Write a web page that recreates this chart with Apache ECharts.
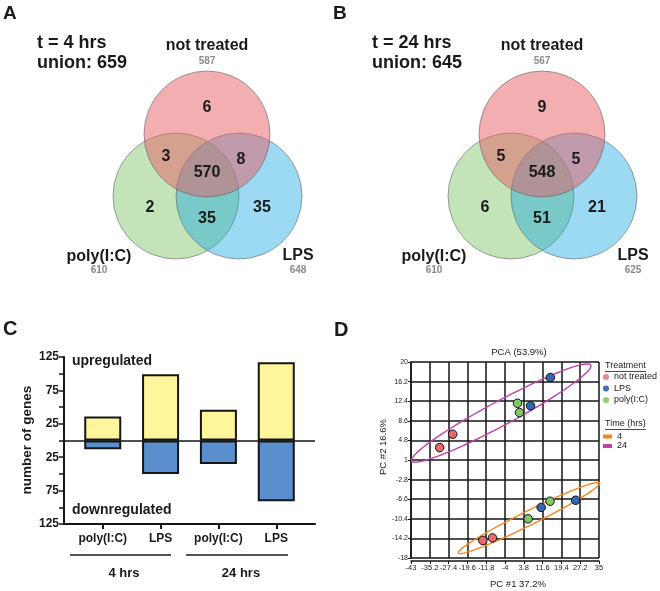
<!DOCTYPE html>
<html><head><meta charset="utf-8">
<script src="https://cdn.jsdelivr.net/npm/echarts@6/dist/echarts.min.js"></script>
<style>html,body{margin:0;padding:0;background:#fff}#c{width:660px;height:591px}</style>
</head><body><div id="c"></div>
<script>
// ===================== DATA =====================
// Venn diagrams (A: 4 hrs, B: 24 hrs)
const vennSetNames = ['not treated', 'poly(I:C)', 'LPS'];
const vennSetSizes4h = [587, 610, 648];
const vennSetSizes24h = [567, 610, 625];
// regions: NT only, NT∩poly, NT∩poly∩LPS, NT∩LPS, poly only, poly∩LPS, LPS only
const vennCounts4h = [6, 3, 570, 8, 2, 35, 35];
const vennCounts24h = [9, 5, 548, 5, 6, 51, 21];
const vennTimeTitles = ['t = 4 hrs', 't = 24 hrs'];
const vennUnions = [659, 645];

// Bar chart (C)
const barCategories = ['poly(I:C)', 'LPS', 'poly(I:C)', 'LPS'];
const barGroups = ['4 hrs', '24 hrs'];
const upregulated = [36, 99, 46, 117];
const downregulated = [13, 50, 35, 91];
const barYLabelValues = [125, 75, 25];

// PCA (D)
const pcaNotTreated = [[-31.1, 3.4], [-25.7, 6.0], [-13.2, -14.6], [-9.2, -14.1]];
const pcaLPS = [[14.8, 17.0], [6.6, 11.5], [25.3, -6.8], [11.0, -8.2]];
const pcaPoly = [[1.2, 12.0], [2.0, 10.2], [14.7, -7.0], [5.6, -10.4]];
// ellipse: centre x, centre y, major-axis end x, end y, minor/major ratio
const ellipse4h = [5.96, -10.24, 35.3, -3.44, 0.09];
const ellipse24h = [-5.56, 10.1, 31.6, 19.4, 0.12];
const pcaXRange = [-43, 35, 7.8];
const pcaYRange = [-18, 20, 3.8];

// ===================== LAYOUT =====================
const FONT = '"Liberation Sans", Arial, Helvetica, sans-serif';
const panelDX = [0, 335];
const vennCircleLayout = [[207, 134], [176, 196], [239, 196]]; // NT, poly, LPS
const vennR = 63;
const vennFills = ['rgba(229,93,99,0.5)', 'rgba(135,201,115,0.5)', 'rgba(20,165,225,0.42)'];
const vennRegionLayout = [[207, 108], [166, 157], [207, 173], [241, 159.5], [150, 207.5], [207, 218.5], [262, 207.5]];
const vennSetLabelLayout = [[207, 45.5, 61], [99, 257, 270], [298, 256, 270]];

const chart = echarts.init(document.getElementById('c'), null, {renderer: 'canvas'});

// circles
const circleData = [];
[0, 1].forEach(p => {
  [1, 2, 0].forEach(k => {
    circleData.push([vennCircleLayout[k][0] + panelDX[p], vennCircleLayout[k][1], vennR, k]);
  });
});

// text items
const textItems = [];
[[vennCounts4h, vennSetSizes4h], [vennCounts24h, vennSetSizes24h]].forEach((pair, p) => {
  const counts = pair[0], sizes = pair[1];
  counts.forEach((c, i) => {
    textItems.push({x: vennRegionLayout[i][0] + panelDX[p], y: vennRegionLayout[i][1], text: String(c), font: 'bold 16px ' + FONT, color: '#1a1a1a', align: 'center'});
  });
  vennSetNames.forEach((n, i) => {
    const L = vennSetLabelLayout[i];
    textItems.push({x: L[0] + panelDX[p], y: L[1], text: n, font: 'bold 16px ' + FONT, color: '#1a1a1a', align: 'center'});
    textItems.push({x: L[0] + panelDX[p], y: L[2], text: String(sizes[i]), font: 'bold 10px ' + FONT, color: '#8a8a8a', align: 'center'});
  });
  textItems.push({x: 37 + panelDX[p], y: 43.5, text: vennTimeTitles[p], font: 'bold 18px ' + FONT, color: '#1a1a1a', align: 'left'});
  textItems.push({x: 37 + panelDX[p], y: 63, text: 'union: ' + vennUnions[p], font: 'bold 18px ' + FONT, color: '#1a1a1a', align: 'left'});
});

function ellipseRender(color) {
  return function (params, api) {
    const c = api.coord([api.value(0), api.value(1)]);
    const e = api.coord([api.value(2), api.value(3)]);
    const r = api.value(4);
    const vx = e[0] - c[0], vy = e[1] - c[1];
    const ux = -vy * r, uy = vx * r;
    const pts = [];
    for (let i = 0; i <= 90; i++) {
      const t = i / 90 * Math.PI * 2;
      pts.push([c[0] + Math.cos(t) * vx + Math.sin(t) * ux, c[1] + Math.cos(t) * vy + Math.sin(t) * uy]);
    }
    return {type: 'polygon', shape: {points: pts}, style: {fill: 'none', stroke: color, lineWidth: 1.4}};
  };
}

const graphics = [];
function gtext(x, y, text, font, opts) {
  graphics.push({type: 'text', x: x, y: y, style: Object.assign({text: text, font: font, fill: '#1a1a1a', align: 'left', verticalAlign: 'middle'}, opts || {})});
}
function gline(x1, y1, x2, y2, w, color) {
  graphics.push({type: 'line', shape: {x1: x1, y1: y1, x2: x2, y2: y2}, style: {stroke: color || '#1a1a1a', lineWidth: w}});
}
// panel letters
gtext(3, 14, 'A', 'bold 19px ' + FONT);
gtext(333, 14, 'B', 'bold 19px ' + FONT);
gtext(3, 329, 'C', 'bold 20px ' + FONT);
gtext(334, 330, 'D', 'bold 20px ' + FONT);
// panel C annotations
gtext(72, 361, 'upregulated', 'bold 14px ' + FONT);
gtext(72, 510, 'downregulated', 'bold 14px ' + FONT);
graphics.push({type: 'text', x: 27.5, y: 440, rotation: Math.PI / 2, style: {text: 'number of genes', font: 'bold 13.5px ' + FONT, fill: '#1a1a1a', align: 'center', verticalAlign: 'middle'}});
gline(70, 555, 171, 555, 1.5);
gline(186, 555, 288, 555, 1.5);
gtext(124, 573, barGroups[0], 'bold 13px ' + FONT, {align: 'center'});
gtext(241, 573, barGroups[1], 'bold 13px ' + FONT, {align: 'center'});
// panel D annotations
gtext(519, 352, 'PCA (53.9%)', '9.5px ' + FONT, {align: 'center', fill: '#222'});
graphics.push({type: 'text', x: 383, y: 447, rotation: Math.PI / 2, style: {text: 'PC #2 16.6%', font: '9.5px ' + FONT, fill: '#222', align: 'center', verticalAlign: 'middle'}});
gtext(518, 584, 'PC #1 37.2%', '9.5px ' + FONT, {align: 'center', fill: '#222'});
gtext(605, 366, 'Treatment', '9px ' + FONT, {fill: '#222'});
gline(605, 371.5, 646, 371.5, 0.8, '#222');
gtext(605, 424, 'Time (hrs)', '9px ' + FONT, {fill: '#222'});
gline(605, 429.5, 646, 429.5, 0.8, '#222');

const axisDark = '#151515';

const option = {
  animation: false,
  backgroundColor: '#fff',
  textStyle: {fontFamily: FONT},
  graphic: graphics,
  grid: [
    {left: 0, top: 0, width: 660, height: 591, show: false},
    {left: 64, top: 357, width: 251, height: 167},
    {left: 411, top: 362, width: 188, height: 196}
  ],
  xAxis: [
    {gridIndex: 0, type: 'value', min: 0, max: 660, show: false},
    {gridIndex: 1, type: 'value', min: 0.33, max: 4.67,
      axisLine: {show: true, onZero: false, lineStyle: {color: axisDark, width: 2}},
      axisTick: {show: true, customValues: [1, 2, 3, 4], length: 5, lineStyle: {color: axisDark, width: 2}},
      axisLabel: {customValues: [1, 2, 3, 4], formatter: v => barCategories[Math.round(v) - 1], fontWeight: 'bold', fontSize: 12, color: '#1a1a1a', margin: 9},
      splitLine: {show: false}},
    {gridIndex: 2, type: 'value', min: pcaXRange[0], max: pcaXRange[1], interval: pcaXRange[2], offset: 3,
      axisLine: {show: true, onZero: false, lineStyle: {color: axisDark, width: 1.5}},
      axisTick: {show: true, length: 3, lineStyle: {color: axisDark}},
      axisLabel: {fontSize: 7.5, color: '#222', margin: 3, formatter: v => String(+v.toFixed(1))},
      splitLine: {show: true, lineStyle: {color: axisDark, width: 1.5}}}
  ],
  yAxis: [
    {gridIndex: 0, type: 'value', min: 0, max: 591, inverse: true, show: false},
    {gridIndex: 1, type: 'value', min: -125, max: 125, interval: 25,
      axisLine: {show: true, onZero: false, lineStyle: {color: axisDark, width: 2}},
      axisTick: {show: true, length: 5, lineStyle: {color: axisDark, width: 1.5}},
      axisLabel: {formatter: v => { const a = Math.abs(v); return barYLabelValues.indexOf(a) >= 0 ? String(a) : ''; }, fontWeight: 'bold', fontSize: 12, color: '#1a1a1a', margin: 5},
      splitLine: {show: false}},
    {gridIndex: 2, type: 'value', min: pcaYRange[0], max: pcaYRange[1], interval: pcaYRange[2],
      axisLine: {show: true, onZero: false, lineStyle: {color: axisDark, width: 1.5}},
      axisTick: {show: true, length: 3, lineStyle: {color: axisDark}},
      axisLabel: {fontSize: 7, color: '#222', margin: 3, formatter: v => String(+v.toFixed(1))},
      splitLine: {show: true, lineStyle: {color: axisDark, width: 1.5}}}
  ],
  legend: [
    {orient: 'vertical', left: 603, top: 372, padding: 0, itemGap: 1.5, itemWidth: 6, itemHeight: 6, icon: 'circle', selectedMode: false,
      itemStyle: {borderWidth: 0},
      textStyle: {fontSize: 9, color: '#222', lineHeight: 10},
      data: [{name: 'not treated', itemStyle: {color: '#f4868a'}}, {name: 'LPS', itemStyle: {color: '#3a6cc0'}}, {name: 'poly(I:C)', itemStyle: {color: '#8fd26b'}}]},
    {orient: 'vertical', left: 603, top: 432, padding: 0, itemGap: 0.5, itemWidth: 9, itemHeight: 4, icon: 'rect', selectedMode: false,
      itemStyle: {borderWidth: 0},
      textStyle: {fontSize: 9, color: '#222', lineHeight: 9},
      data: ['4', '24']}
  ],
  series: [
    {type: 'custom', name: 'venn circles', xAxisIndex: 0, yAxisIndex: 0, silent: true, z: 1,
      data: circleData,
      renderItem: (params, api) => {
        const c = api.coord([api.value(0), api.value(1)]);
        const r = api.size([api.value(2), 0])[0];
        return {type: 'circle', shape: {cx: c[0], cy: c[1], r: r}, style: {fill: vennFills[api.value(3)], stroke: 'rgba(90,90,90,0.55)', lineWidth: 1}};
      }},
    {type: 'custom', name: 'venn text', xAxisIndex: 0, yAxisIndex: 0, silent: true, z: 5,
      data: textItems.map(t => [t.x, t.y]),
      renderItem: (params, api) => {
        const t = textItems[params.dataIndex];
        const p = api.coord([api.value(0), api.value(1)]);
        return {type: 'text', x: p[0], y: p[1], style: {text: t.text, font: t.font, fill: t.color, align: t.align, verticalAlign: 'middle'}};
      }},
    {type: 'bar', name: 'upregulated', xAxisIndex: 1, yAxisIndex: 1, stack: 'reg', barWidth: 37,
      data: upregulated.map((v, i) => [i + 1, v]),
      itemStyle: {color: '#fff59b', borderColor: axisDark, borderWidth: 2},
      markLine: {silent: true, symbol: 'none', label: {show: false}, lineStyle: {color: axisDark, width: 1.6, type: 'solid'}, data: [{yAxis: 0}]}},
    {type: 'bar', name: 'downregulated', xAxisIndex: 1, yAxisIndex: 1, stack: 'reg', barWidth: 37,
      data: downregulated.map((v, i) => [i + 1, -v]),
      itemStyle: {color: '#5b8ecc', borderColor: axisDark, borderWidth: 2}},
    {type: 'custom', name: '4', xAxisIndex: 2, yAxisIndex: 2, z: 3, itemStyle: {color: '#f7861e'},
      data: [ellipse4h], renderItem: ellipseRender('#f7861e')},
    {type: 'custom', name: '24', xAxisIndex: 2, yAxisIndex: 2, z: 3, itemStyle: {color: '#c042a8'},
      data: [ellipse24h], renderItem: ellipseRender('#c042a8')},
    {type: 'scatter', name: 'not treated', xAxisIndex: 2, yAxisIndex: 2, z: 4, symbolSize: 8.5, data: pcaNotTreated,
      itemStyle: {color: '#e8696d', borderColor: '#111', borderWidth: 1, opacity: 1}},
    {type: 'scatter', name: 'LPS', xAxisIndex: 2, yAxisIndex: 2, z: 4, symbolSize: 8.5, data: pcaLPS,
      itemStyle: {color: '#3466b6', borderColor: '#111', borderWidth: 1, opacity: 1}},
    {type: 'scatter', name: 'poly(I:C)', xAxisIndex: 2, yAxisIndex: 2, z: 4, symbolSize: 8.5, data: pcaPoly,
      itemStyle: {color: '#80c96a', borderColor: '#111', borderWidth: 1, opacity: 1}}
  ]
};
chart.setOption(option);
</script>
</body></html>
